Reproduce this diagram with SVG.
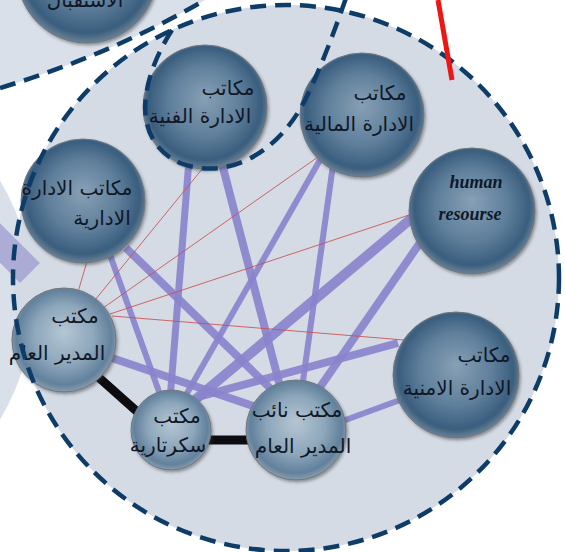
<svg xmlns="http://www.w3.org/2000/svg" width="566" height="552" viewBox="0 0 566 552">
<defs>
<style>
.dash{fill:none;stroke:#0e3c68;stroke-width:4.5;stroke-dasharray:16 9}
.lav{stroke:#8a83cd;stroke-opacity:0.92;stroke-linecap:butt}
.red{stroke:#c9504e;stroke-width:1;stroke-opacity:0.85}
.blk{stroke:#0c0c10;stroke-width:9}
.nd{stroke:#6f767e;stroke-width:1;filter:url(#sh)}
.dk{fill:url(#gd)}
.lt{fill:url(#gl)}
.ar{font-family:"DejaVu Sans",sans-serif;font-size:20px;fill:#101828;text-anchor:middle}
.en{font-family:"Liberation Serif",serif;font-size:18px;font-weight:bold;font-style:italic;fill:#101828;text-anchor:middle}
</style>
<radialGradient id="gd" cx="50%" cy="48%" r="52%" fx="50%" fy="42%">
<stop offset="0" stop-color="#87a0b5"/>
<stop offset="0.55" stop-color="#5f7f9b"/>
<stop offset="0.88" stop-color="#3a5e7e"/>
<stop offset="1" stop-color="#6c8296"/>
</radialGradient>
<radialGradient id="gl" cx="50%" cy="48%" r="52%" fx="50%" fy="42%">
<stop offset="0" stop-color="#b4c6d4"/>
<stop offset="0.55" stop-color="#8ea7bb"/>
<stop offset="0.88" stop-color="#62819c"/>
<stop offset="1" stop-color="#8a9cad"/>
</radialGradient>
<filter id="sh" x="-20%" y="-20%" width="140%" height="140%">
<feDropShadow dx="1.5" dy="2" stdDeviation="1.5" flood-color="#333" flood-opacity="0.45"/>
</filter>
</defs>
<rect width="566" height="552" fill="#ffffff"/>
<g id="regions">
<path d="M0,0 H205 Q110,55 0,88 Z" fill="#d9e0e9"/>
<circle cx="-200" cy="300" r="233" fill="#d9e0e9"/>
<circle cx="286" cy="278" r="273" fill="#d4dbe5"/>
<line x1="-20" y1="223" x2="30" y2="273" stroke="#9d9bd0" stroke-width="28" stroke-opacity="0.75"/>
</g>
<g id="connectors">
<line class="lav" x1="189" y1="160" x2="170" y2="400" stroke-width="7"/>
<line class="lav" x1="221" y1="160" x2="281" y2="390" stroke-width="8"/>
<line class="lav" x1="320" y1="160" x2="182" y2="402" stroke-width="6"/>
<line class="lav" x1="333" y1="165" x2="302" y2="388" stroke-width="6"/>
<line class="lav" x1="412" y1="218" x2="190" y2="404" stroke-width="10"/>
<line class="lav" x1="424" y1="237" x2="316" y2="393" stroke-width="8"/>
<line class="lav" x1="110" y1="255" x2="162" y2="400" stroke-width="6"/>
<line class="lav" x1="126" y1="248" x2="272" y2="390" stroke-width="8"/>
<line class="lav" x1="112" y1="358" x2="256" y2="407" stroke-width="8"/>
<line class="lav" x1="398" y1="343" x2="198" y2="397" stroke-width="8"/>
<line class="lav" x1="400" y1="400" x2="340" y2="422" stroke-width="6"/>
<line class="red" x1="78" y1="292" x2="88" y2="258"/>
<line class="red" x1="95" y1="300" x2="203" y2="168"/>
<line class="red" x1="103" y1="308" x2="318" y2="157"/>
<line class="red" x1="110" y1="314" x2="412" y2="214"/>
<line class="red" x1="112" y1="316" x2="404" y2="340"/>
<line class="blk" x1="96" y1="375" x2="142" y2="416"/>
<line class="blk" x1="205" y1="440" x2="250" y2="440"/>
</g>
<g id="node-reception">
<circle class="nd dk" cx="87" cy="-27" r="70"/>
<text class="ar" x="85" y="7">الاستقبال</text>
</g>
<g id="node-technical">
<circle class="nd dk" cx="205" cy="107" r="62"/>
<text class="ar" x="228" y="95">مكاتب</text>
<text class="ar" x="200" y="123">الادارة الفنية</text>
</g>
<g id="node-financial">
<circle class="nd dk" cx="362" cy="115" r="62"/>
<text class="ar" x="380" y="100">مكاتب</text>
<text class="ar" x="359" y="131">الادارة المالية</text>
</g>
<g id="node-hr">
<circle class="nd dk" cx="472" cy="211" r="63"/>
<text class="en" x="476" y="188">human</text>
<text class="en" x="470" y="220">resourse</text>
</g>
<g id="node-admin">
<circle class="nd dk" cx="83" cy="201" r="62"/>
<text class="ar" x="77" y="195">مكاتب الادارة</text>
<text class="ar" x="102" y="225">الادارية</text>
</g>
<g id="node-gm">
<circle class="nd lt" cx="64" cy="340" r="52"/>
<text class="ar" x="75" y="323">مكتب</text>
<text class="ar" x="57" y="360">المدير العام</text>
</g>
<g id="node-secretary">
<circle class="nd lt" cx="171" cy="430" r="40"/>
<text class="ar" x="177" y="423">مكتب</text>
<text class="ar" x="168" y="452">سكرتارية</text>
</g>
<g id="node-deputy">
<circle class="nd lt" cx="296" cy="430" r="50"/>
<text class="ar" x="297" y="417">مكتب نائب</text>
<text class="ar" x="303" y="453">المدير العام</text>
</g>
<g id="node-security">
<circle class="nd dk" cx="456" cy="375" r="63"/>
<text class="ar" x="484" y="362">مكاتب</text>
<text class="ar" x="457" y="395">الادارة الامنية</text>
</g>
<g id="boundaries">
<path class="dash" d="M0,88 Q110,55 205,0"/>
<circle class="dash" cx="286" cy="278" r="273"/>
<path class="dash" d="M172,30 C140,80 130,140 180,163 C230,182 280,150 305,100 C320,70 335,30 347,-5"/>
</g>
<line id="red-marker" x1="438" y1="0" x2="452" y2="80" stroke="#ee1515" stroke-width="5"/>
</svg>
